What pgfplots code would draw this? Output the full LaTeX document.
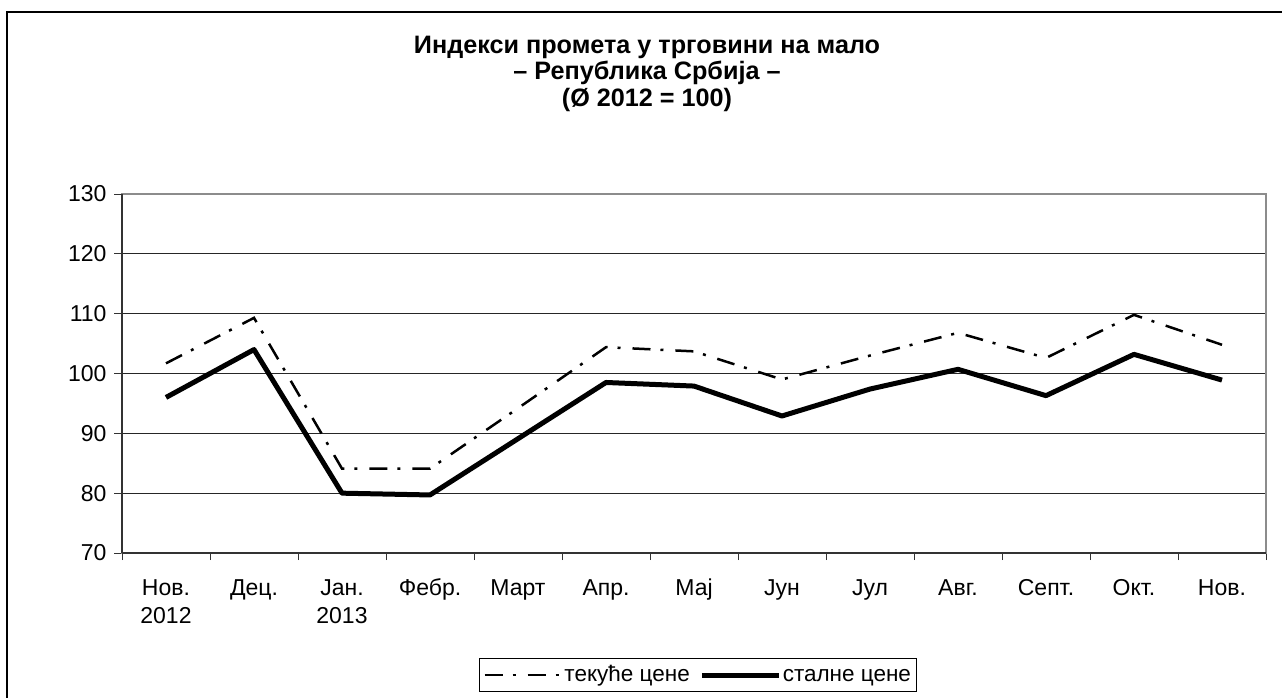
\documentclass[border=0pt]{standalone}
\usepackage{fontspec}
\setmainfont{Liberation Sans}
\usepackage{pgfplots}
\pgfplotsset{compat=1.18}
\pgfplotstableread{
x tekuce stalne
0 101.7 96.0
1 109.3 104.0
2 84.1 80.0
3 84.1 79.7
4 94.2 89.1
5 104.4 98.5
6 103.7 97.9
7 99.0 92.9
8 103.0 97.4
9 106.8 100.7
10 102.6 96.3
11 109.8 103.2
12 104.8 98.9
}\datatable
\begin{document}
\begin{tikzpicture}[x=1pt,y=1pt]
\useasboundingbox (0,0) rectangle (1282,697);
\draw[line width=2.5pt] (7,-50) -- (7,685) -- (1350,685);
\node[font=\fontsize{25.2}{26.5}\selectfont\bfseries, align=center] at (647,623.5)
  {Индекси промета у трговини на мало\\– Република Србија –\\(Ø 2012 = 100)};
\begin{axis}[
  at={(122pt,144pt)}, anchor=south west,
  scale only axis, width=1144pt, height=359pt,
  xmin=-0.5, xmax=12.5, ymin=70, ymax=130,
  xtick={0,...,12},
  xticklabels={{\strut Нов.\\2012},\strut Дец.,{\strut Јан.\\2013},\strut Фебр.,\strut Март,\strut Апр.,\strut Мај,\strut Јун,\strut Јул,\strut Авг.,\strut Септ.,\strut Окт.,\strut Нов.},
  minor xtick={-0.5,0.5,...,12.5},
  every major x tick/.append style={draw=none},
  ytick={70,80,...,130},
  tick pos=left,
  tick align=outside,
  major tick length=8pt, minor tick length=7pt,
  tick style={black!80, line width=0.9pt},
  ymajorgrids,
  grid style={black!85, line width=0.8pt},
  axis line style={black!45, line width=1.2pt},
  ticklabel style={font=\fontsize{23}{28}\selectfont},
  xticklabel style={align=center, anchor=north, yshift=-11pt},
  yticklabel style={xshift=-4pt},
  /pgf/number format/assume math mode=true,
  legend style={at={(0.5035,-0.34)}, anchor=center, draw=black, line width=0.8pt,
    font=\fontsize{22.5}{26}\selectfont, legend columns=-1,
    inner sep=4pt,
    nodes={inner sep=1.5pt, text height=17pt, text depth=5pt},
    /tikz/every even column/.append style={column sep=8pt}},
  legend image code/.code={\draw[#1] (0pt,0pt) -- (77pt,0pt);},
  clip=false,
]
\addplot[black, line width=2.5pt, dash pattern=on 18pt off 10pt on 3pt off 12pt] table[x=x, y=tekuce] {\datatable};
\addlegendentry{текуће цене}
\addplot[black, line width=5pt, line join=round] table[x=x, y=stalne] {\datatable};
\addlegendentry{сталне цене}
\draw[black!80, line width=1.4pt] (rel axis cs:0,0) -- (rel axis cs:0,1);
\draw[black!80, line width=1.4pt] (rel axis cs:0,0) -- (rel axis cs:1,0);
\end{axis}
\end{tikzpicture}
\end{document}
